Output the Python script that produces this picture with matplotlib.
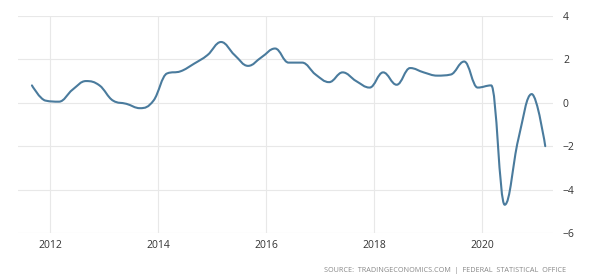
import numpy as np
import matplotlib
matplotlib.use('Agg')
import matplotlib.pyplot as plt
from matplotlib.path import Path
from matplotlib.patches import PathPatch

# quarterly series, 2011Q3 .. 2021Q1
quarters = ['2011Q3', '2011Q4', '2012Q1', '2012Q2', '2012Q3', '2012Q4',
            '2013Q1', '2013Q2', '2013Q3', '2013Q4', '2014Q1', '2014Q2',
            '2014Q3', '2014Q4', '2015Q1', '2015Q2', '2015Q3', '2015Q4',
            '2016Q1', '2016Q2', '2016Q3', '2016Q4', '2017Q1', '2017Q2',
            '2017Q3', '2017Q4', '2018Q1', '2018Q2', '2018Q3', '2018Q4',
            '2019Q1', '2019Q2', '2019Q3', '2019Q4', '2020Q1', '2020Q2',
            '2020Q3', '2020Q4', '2021Q1']
values = [0.8, 0.1, 0.05, 0.6, 1.0, 0.8, 0.1, -0.05, -0.25, 0.1,
          1.35, 1.45, 1.8, 2.2, 2.8, 2.2, 1.7, 2.1, 2.5, 1.85,
          1.85, 1.3, 0.95, 1.4, 1.0, 0.7, 1.4, 0.83, 1.6, 1.4,
          1.25, 1.3, 1.9, 0.7, 0.8, -4.7, -1.7, 0.4, -2.0]
year_ticks = [2012, 2014, 2016, 2018, 2020]
value_ticks = [-6, -4, -2, 0, 2, 4]
source_text = 'SOURCE:  TRADINGECONOMICS.COM  |  FEDERAL  STATISTICAL  OFFICE'


def quarter_to_year(q):
    # plotted at the last month of the quarter
    return int(q[:4]) + (int(q[5]) - 1) * 0.25 + 0.167


def spline_path(xs, ys, smoothing=1.5):
    # highcharts-like spline: cubic bezier control points per point
    n = len(xs)
    denom = smoothing + 1
    lc = [(xs[i], ys[i]) for i in range(n)]
    rc = [(xs[i], ys[i]) for i in range(n)]
    for i in range(1, n - 1):
        px, py = xs[i], ys[i]
        lx, ly = xs[i - 1], ys[i - 1]
        nx, ny = xs[i + 1], ys[i + 1]
        lcx = (smoothing * px + lx) / denom
        lcy = (smoothing * py + ly) / denom
        rcx = (smoothing * px + nx) / denom
        rcy = (smoothing * py + ny) / denom
        corr = (rcy - lcy) * (rcx - px) / (rcx - lcx) + py - rcy
        lcy += corr
        rcy += corr
        if lcy > ly and lcy > py:
            lcy = max(ly, py)
            rcy = 2 * py - lcy
        elif lcy < ly and lcy < py:
            lcy = min(ly, py)
            rcy = 2 * py - lcy
        if rcy > ny and rcy > py:
            rcy = max(ny, py)
            lcy = 2 * py - rcy
        elif rcy < ny and rcy < py:
            rcy = min(ny, py)
            lcy = 2 * py - rcy
        lc[i] = (lcx, lcy)
        rc[i] = (rcx, rcy)
    verts = [(xs[0], ys[0])]
    codes = [Path.MOVETO]
    for i in range(1, n):
        verts += [rc[i - 1], lc[i], (xs[i], ys[i])]
        codes += [Path.CURVE4] * 3
    return Path(verts, codes)


x = np.array([quarter_to_year(q) for q in quarters])
y = np.array(values)

plt.rcParams['font.family'] = ['Open Sans', 'DejaVu Sans']

fig = plt.figure(figsize=(6.02, 2.8), dpi=100)
ax = fig.add_axes([0.030, 0.168, 0.889, 0.775])

patch = PathPatch(spline_path(x, y), facecolor='none', edgecolor='#4a7b9d',
                  linewidth=1.5, capstyle='round', joinstyle='round')
ax.add_patch(patch)

ax.set_xlim(2011.41, 2021.315)
ax.set_ylim(-6, 4)
ax.set_xticks(year_ticks)
ax.set_xticklabels([str(t) for t in year_ticks])
ax.set_yticks(value_ticks)
ax.yaxis.tick_right()
ax.tick_params(axis='both', length=0, labelsize=7.5, colors='#333333')
ax.tick_params(axis='x', pad=5)
ax.tick_params(axis='y', pad=7)
ax.grid(True, color='#e8e8e8', linewidth=0.8)
ax.set_axisbelow(True)
for s in ax.spines.values():
    s.set_visible(False)

fig.text(0.940, 0.035, source_text, ha='right', va='center',
         fontsize=5.2, color='#888888')

fig.savefig('out.png', dpi=100)
